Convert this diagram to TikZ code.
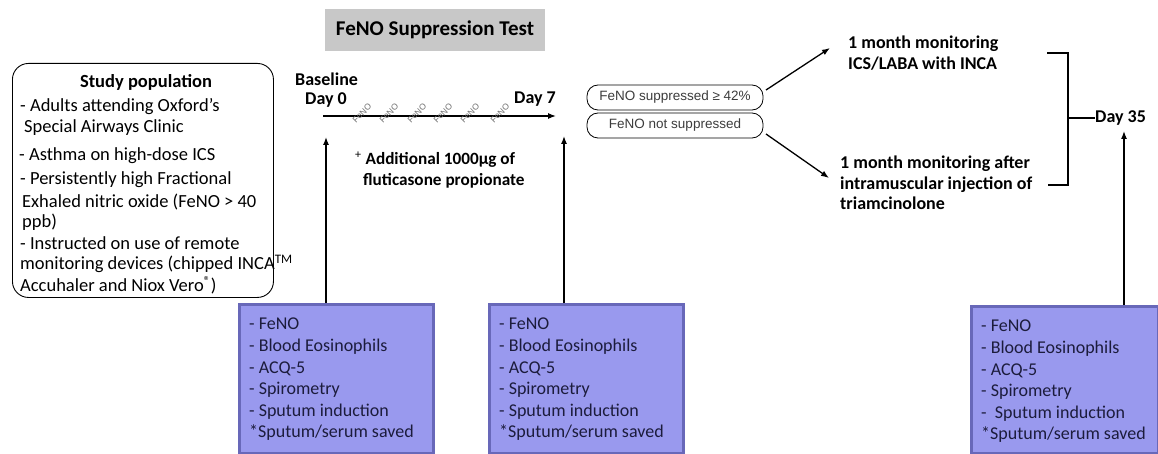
\documentclass[tikz,border=0pt]{standalone}
\usepackage{fontspec}
\setmainfont{Carlito}
\newfontfamily\arial{Liberation Sans}
\usetikzlibrary{arrows.meta}
\definecolor{boxfill}{RGB}{153,153,238}
\definecolor{boxedge}{RGB}{104,104,185}
\definecolor{boxtext}{RGB}{28,28,60}
\definecolor{titlegray}{RGB}{200,200,200}
\definecolor{pilltext}{RGB}{60,60,60}
\definecolor{fenogray}{RGB}{110,110,110}
\tikzset{
  x=1pt, y=-1pt,
  arr/.style={line width=1.3pt, -{Latex[length=8pt,width=6pt]}},
  measbox/.style={draw=boxedge, line width=2.5pt, fill=boxfill,
    minimum height=149pt, inner sep=0pt, anchor=north west},
  meastext/.style={text=boxtext, align=left, inner sep=0pt, anchor=north west,
    font=\fontsize{18}{21.6}\selectfont},
  pill/.style={draw, rounded corners=11pt, line width=0.8pt, minimum width=176pt,
    minimum height=25pt, font=\arial\fontsize{13.5}{15}\selectfont, text=pilltext, inner sep=0pt},
  bold/.style={font=\bfseries\fontsize{18}{21}\selectfont, inner sep=0pt},
  plain/.style={font=\fontsize{18.5}{21}\selectfont, inner sep=0pt, anchor=west},
  fenolab/.style={font=\arial\fontsize{8.5}{9}\selectfont, text=fenogray, rotate=45, inner sep=0pt},
  bracket/.style={line width=2.8pt}
}
\begin{document}
\begin{tikzpicture}
\useasboundingbox (0,0) rectangle (1158,454);
% title
\node[fill=titlegray, minimum width=220pt, minimum height=42pt, inner sep=0pt,
  font=\bfseries\fontsize{21}{24}\selectfont] (title) at (435,30) {FeNO Suppression Test};
% study population box
\node[draw, rounded corners=16pt, line width=0.9pt, minimum width=261pt, minimum height=234pt,
  anchor=north west, inner sep=0pt] (pop) at (12,63) {};
\node[bold, font=\bfseries\fontsize{18.5}{21}\selectfont] (poptitle) at (146,82) {Study population};
\node[plain] (p1) at (20,107) {- Adults attending Oxford's};
\node[plain] (p2) at (24,128) {Special Airways Clinic};
\node[plain] (p3) at (19,156) {- Asthma on high-dose ICS};
\node[plain] (p4) at (20,180) {- Persistently high Fractional};
\node[plain] (p5) at (22,202) {Exhaled nitric oxide (FeNO > 40};
\node[plain] (p6) at (22,222) {ppb)};
\node[plain] (p7) at (20,243) {- Instructed on use of remote};
\node[plain] (p8) at (20,264) {monitoring devices (chipped INCA\textsuperscript{TM}};
\node[plain] (p9) at (20,285) {Accuhaler and Niox Vero\textsuperscript{\textregistered})};
% timeline
\node[bold, anchor=west] (baseline) at (295,79) {Baseline};
\node[bold, anchor=west] (day0) at (305,100) {Day 0};
\node[bold, anchor=west] (day7) at (514,99) {Day 7};
\coordinate (tl0) at (323,116);
\coordinate (tl1) at (556,116);
\draw[arr] (tl0) -- (tl1);
\foreach \i/\xx in {1/362,2/389,3/417,4/443,5/470,6/500}
  \node[fenolab] (f\i) at (\xx,113) {FeNO};
\node[anchor=west, inner sep=0pt, font=\bfseries\fontsize{17.2}{20}\selectfont] (add1) at (355,160) {\textsuperscript{\normalfont+} Additional 1000µg of};
\node[anchor=west, inner sep=0pt, font=\bfseries\fontsize{17.2}{20}\selectfont] (add2) at (363,181) {fluticasone propionate};
% measurement boxes
\node[measbox, minimum width=194pt] (b1) at (238,303) {};
\node[measbox, minimum width=194pt] (b2) at (488,303) {};
\node[measbox, minimum width=187pt, minimum height=147pt] (b3) at (970,305) {};
\node[meastext] (m1) at ([xshift=11pt,yshift=-15pt]b1.north west) {- FeNO\\- Blood Eosinophils\\- ACQ-5\\- Spirometry\\- Sputum induction\\{*}Sputum/serum saved};
\node[meastext] (m2) at ([xshift=11pt,yshift=-15pt]b2.north west) {- FeNO\\- Blood Eosinophils\\- ACQ-5\\- Spirometry\\- Sputum induction\\{*}Sputum/serum saved};
\node[meastext] (m3) at ([xshift=11pt,yshift=-15pt]b3.north west) {- FeNO\\- Blood Eosinophils\\- ACQ-5\\- Spirometry\\-\ \ Sputum induction\\{*}Sputum/serum saved};
\coordinate (t0) at (326,137);
\coordinate (t7) at (564,136);
\coordinate (t35) at (1124,131);
\draw[arr] (b1.north -| t0) -- (t0);
\draw[arr] (b2.north -| t7) -- (t7);
\draw[arr] (b3.north -| t35) -- (t35);
% pills
\node[pill] (sup) at (675,97.5) {FeNO suppressed ≥ 42\%};
\node[pill] (nsup) at (675,125.5) {FeNO not suppressed};
\coordinate (s0) at (766,90);
\coordinate (n0) at (766,134);
\coordinate (up) at (830,48);
\coordinate (dn) at (829,178);
\draw[arr] (s0) -- (up);
\draw[arr] (n0) -- (dn);
% outcomes
\node[anchor=west, inner sep=0pt, align=left, font=\bfseries\fontsize{18}{21.5}\selectfont] (ics) at (848,53) {1 month monitoring\\ICS/LABA with INCA};
\node[anchor=west, inner sep=0pt, align=left, font=\bfseries\fontsize{18}{20.5}\selectfont] (tri) at (840,183) {1 month monitoring after\\intramuscular injection of\\triamcinolone};
% bracket
\coordinate (bt) at (1068,53);
\coordinate (bb) at (1068,185);
\coordinate (bm) at (1068,118);
\draw[bracket] (1047,53) -- (bt) -- (bb) -- (1048,185);
\node[bold, anchor=west] (day35) at (1095,118) {Day 35};
\draw[line width=2pt] (bm) -- (day35.west);
\end{tikzpicture}
\end{document}
